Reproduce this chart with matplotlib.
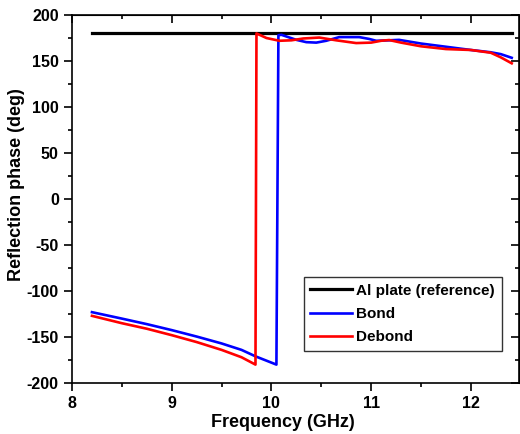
import numpy as np
import matplotlib
matplotlib.use("Agg")
import matplotlib.pyplot as plt
from matplotlib.ticker import MultipleLocator

plt.rcParams['font.family'] = ['Liberation Sans', 'DejaVu Sans']
plt.rcParams['font.weight'] = 'bold'
plt.rcParams['axes.unicode_minus'] = False

# reference plate
ref_f = [8.2, 12.41]
ref_phase = [180, 180]

# bond
bond_f = [8.2, 8.5, 8.75, 9.0, 9.25, 9.5, 9.7, 9.84, 10.05, 10.07, 10.1, 10.25, 10.35,
          10.45, 10.55, 10.68, 10.88, 10.98, 11.05, 11.18, 11.28, 11.5, 11.75, 12.0,
          12.2, 12.3, 12.41]
bond_phase = [-123, -130, -136, -142.5, -149.5, -157, -164, -171, -180, 178, 178.5, 173,
              170.5, 170, 172, 176, 176, 174, 172, 172.5, 173, 169, 165.5, 162,
              159.5, 157.5, 153.5]

# debond
debond_f = [8.2, 8.5, 8.75, 9.0, 9.25, 9.5, 9.7, 9.84, 9.85, 9.95, 10.08, 10.2, 10.32,
            10.48, 10.65, 10.85, 11.0, 11.1, 11.18, 11.3, 11.5, 11.75, 12.0, 12.2,
            12.3, 12.41]
debond_phase = [-127, -135, -141, -148, -155.5, -164, -172, -180, 180, 175, 172, 172.5,
                174.5, 175.5, 172.5, 169.5, 170, 172, 172.8, 170, 166, 163, 162, 159,
                154, 147.5]

fig = plt.figure(figsize=(5.2, 4.34), dpi=100)
ax = fig.add_axes([0.1385, 0.1175, 0.859, 0.8479])

ax.plot(ref_f, ref_phase, color='black', lw=2.3, label='Al plate (reference)')
ax.plot(bond_f, bond_phase, color='#0000ff', lw=1.9, label='Bond')
ax.plot(debond_f, debond_phase, color='#ff0000', lw=1.9, label='Debond')

ax.set_xlim(8, 12.48)
ax.set_ylim(-200, 200)
ax.xaxis.set_major_locator(MultipleLocator(1))
ax.xaxis.set_minor_locator(MultipleLocator(0.5))
ax.yaxis.set_major_locator(MultipleLocator(50))
ax.yaxis.set_minor_locator(MultipleLocator(25))

ax.tick_params(which='both', direction='out', top=False, right=False, width=1.2)
ax.tick_params(which='major', length=6, labelsize=11.5)
ax.tick_params(which='minor', length=3)

# inward ticks on top and right
ax2 = ax.secondary_xaxis('top')
ax2.xaxis.set_major_locator(MultipleLocator(1))
ax2.xaxis.set_minor_locator(MultipleLocator(0.5))
ax2.tick_params(which='both', direction='in', labeltop=False, width=1.2)
ax2.tick_params(which='major', length=6)
ax2.tick_params(which='minor', length=3)
ay2 = ax.secondary_yaxis('right')
ay2.yaxis.set_major_locator(MultipleLocator(50))
ay2.yaxis.set_minor_locator(MultipleLocator(25))
ay2.tick_params(which='both', direction='in', labelright=False, width=1.2)
ay2.tick_params(which='major', length=6)
ay2.tick_params(which='minor', length=3)

for s in ax.spines.values():
    s.set_linewidth(1.2)

ax.set_xlabel('Frequency (GHz)', fontsize=13, fontweight='bold')
ax.xaxis.set_label_coords(0.472, -0.085)
ax.set_ylabel('Reflection phase (deg)', fontsize=13, fontweight='bold')
ax.yaxis.set_label_coords(-0.105, 0.54)

leg = ax.legend(loc='lower right', bbox_to_anchor=(0.962, 0.087), fontsize=11,
                frameon=True, fancybox=False, edgecolor='black', handlelength=2.7,
                borderpad=0.45, labelspacing=0.6, handletextpad=0.3,
                borderaxespad=0)
leg.get_frame().set_linewidth(1.0)

fig.savefig('out.png', dpi=100)
